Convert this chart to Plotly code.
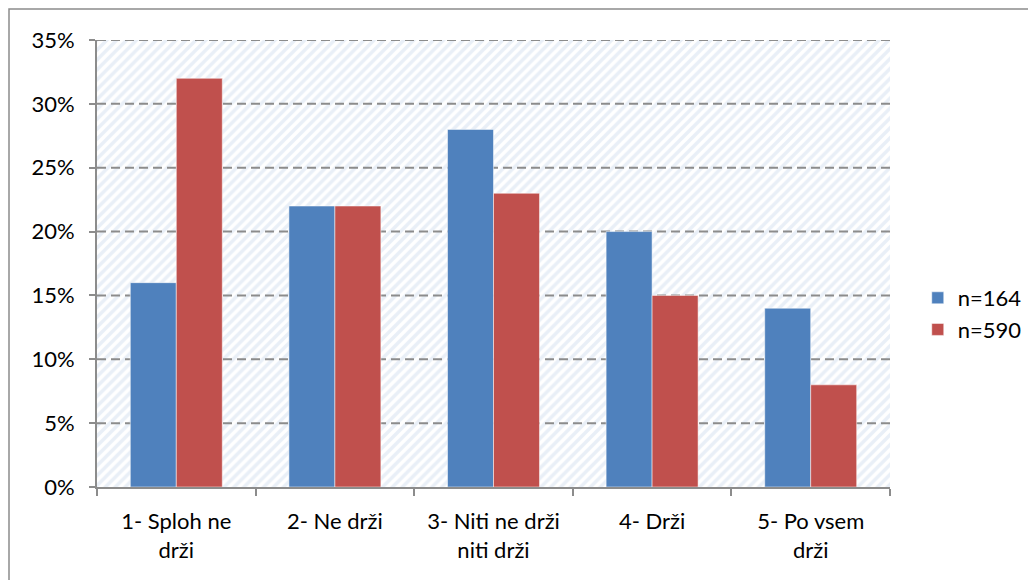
import plotly.graph_objects as go

categories = ["1- Sploh ne<br>drži", "2- Ne drži", "3- Niti ne drži<br>niti drži", "4- Drži", "5- Po vsem<br>drži"]
series_names = ["n=164", "n=590"]
values_164 = [16, 22, 28, 20, 14]
values_590 = [32, 22, 23, 15, 8]
y_ticks = [0, 5, 10, 15, 20, 25, 30, 35]
y_tick_labels = [f"{v}%" for v in y_ticks]

FONT = "Lato"
FS = 22
fig = go.Figure()

# hatched plot background
fig.add_trace(go.Bar(
    x=[0.5], y=[35], width=[1], xaxis="x", yaxis="y",
    marker=dict(color="white", line=dict(width=0),
                pattern=dict(shape="/", fgcolor="#d3e0f0", bgcolor="white", size=7, solidity=0.5)),
    showlegend=False, hoverinfo="skip",
))
# dashed gridlines
for v in y_ticks[1:]:
    fig.add_trace(go.Scatter(
        x=[0, 1], y=[v, v], mode="lines", xaxis="x", yaxis="y",
        line=dict(color="#8c8c8c", width=2, dash="9px,5px"),
        showlegend=False, hoverinfo="skip",
    ))

fig.add_trace(go.Bar(
    name=series_names[0], x=categories, y=values_164, xaxis="x2", yaxis="y2",
    marker=dict(color="#4f81bd", line=dict(color="rgba(255,255,255,0.5)", width=1)),
))
fig.add_trace(go.Bar(
    name=series_names[1], x=categories, y=values_590, xaxis="x2", yaxis="y2",
    marker=dict(color="#c0504d", line=dict(color="rgba(255,255,255,0.5)", width=1)),
))

fig.update_layout(
    width=1036, height=580,
    margin=dict(l=89, r=154, t=32, b=101),
    paper_bgcolor="white", plot_bgcolor="white",
    font=dict(family=FONT, size=FS, color="#000000"),
    barmode="group", bargap=0.42, bargroupgap=0,
    showlegend=True,
    legend=dict(x=1.035, y=0.387, xanchor="left", yanchor="middle",
                font=dict(family=FONT, size=FS), itemwidth=30),
    xaxis=dict(range=[0, 1], showgrid=False, zeroline=False, showticklabels=False,
               showline=False, fixedrange=True),
    yaxis=dict(range=[0, 35], tickvals=y_ticks, ticktext=y_tick_labels, showgrid=False,
               zeroline=False, showline=True, linecolor="#8c8c8c", linewidth=2,
               ticks="outside", ticklen=6, tickcolor="#8c8c8c", tickwidth=2,
               ticklabelstandoff=10, tickfont=dict(family=FONT, size=FS)),
    xaxis2=dict(overlaying="x", type="category", showgrid=False, zeroline=False,
                showline=True, linecolor="#8c8c8c", linewidth=2,
                ticks="outside", tickson="boundaries", ticklen=7, tickcolor="#8c8c8c", tickwidth=2,
                tickfont=dict(family=FONT, size=FS), ticklabelstandoff=14),
    yaxis2=dict(overlaying="y", range=[0, 35], showgrid=False, zeroline=False,
                showticklabels=False, showline=False),
    shapes=[dict(type="rect", xref="paper", yref="paper",
                 x0=-88/793, x1=1.3, y0=-0.3, y1=(479 - 1) / 447,
                 line=dict(color="#8c8c8c", width=1.5), fillcolor="rgba(0,0,0,0)", layer="below")],
)

fig.write_html("out.html")
